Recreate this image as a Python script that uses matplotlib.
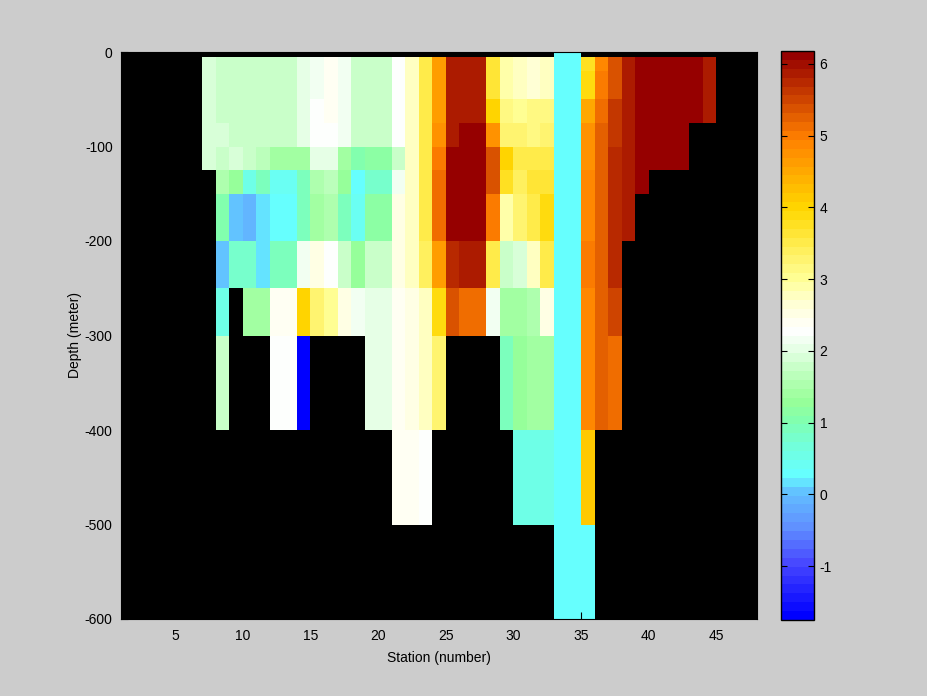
import numpy as np
import matplotlib
matplotlib.use("Agg")
import matplotlib.pyplot as plt
from matplotlib.colors import LinearSegmentedColormap, Normalize

plt.rcParams["font.family"] = ["Liberation Sans", "DejaVu Sans"]
plt.rcParams["axes.unicode_minus"] = False

N = np.nan

# cell edges
station_edges = list(range(7, 46))
depth_edges = [0, -5, -20, -30, -50, -75, -100, -125, -150, -200, -250, -300, -400, -500, -600]

# one profile per station (7..44), top layer first, NaN = no data
profiles = [
    [N, 1.9, 1.9, 1.9, 1.9, 1.9, 1.9, N, N, N, N, N, N, N],                       # 7
    [N, 1.77, 1.77, 1.77, 1.77, 1.9, 1.77, 1.54, 1.0, 0.06, 0.6, 1.77, N, N],      # 8
    [N, 1.77, 1.77, 1.77, 1.77, 1.77, 1.9, 1.3, 0.0, 0.8, N, N, N, N],             # 9
    [N, 1.77, 1.77, 1.77, 1.77, 1.77, 1.77, 0.6, -0.1, 0.8, 1.38, N, N, N],        # 10
    [N, 1.77, 1.77, 1.77, 1.77, 1.77, 1.62, 0.87, 0.12, 0.12, 1.38, N, N, N],      # 11
    [N, 1.83, 1.83, 1.83, 1.77, 1.83, 1.46, 0.45, 0.25, 0.87, 2.43, 2.22, N, N],   # 12
    [N, 1.83, 1.83, 1.83, 1.77, 1.83, 1.46, 0.45, 0.25, 0.87, 2.43, 2.22, N, N],   # 13
    [N, 2.04, 2.04, 2.04, 2.04, 2.04, 1.46, 0.87, 0.87, 2.13, 4.0, -1.75, N, N],   # 14
    [N, 2.13, 2.13, 2.13, 2.22, 2.22, 1.97, 1.54, 1.46, 2.5, 3.25, N, N, N],       # 15
    [N, 2.43, 2.43, 2.43, 2.43, 2.22, 1.97, 1.68, 1.54, 2.3, 2.96, N, N, N],       # 16
    [N, 2.13, 2.13, 2.13, 2.13, 2.13, 1.46, 1.3, 0.87, 1.77, 2.5, N, N, N],        # 17
    [N, 1.83, 1.83, 1.83, 1.77, 1.83, 1.0, 0.25, 0.38, 1.3, 2.13, N, N, N],        # 18
    [N, 1.77, 1.77, 1.77, 1.77, 1.83, 1.2, 0.77, 1.2, 1.77, 1.97, 1.97, N, N],     # 19
    [N, 1.77, 1.77, 1.77, 1.77, 1.83, 1.2, 0.77, 1.2, 1.77, 1.97, 1.97, N, N],     # 20
    [N, 2.22, 2.22, 2.22, 2.22, 2.22, 1.83, 2.13, 2.57, 2.57, 2.35, 2.35, 2.35, N],  # 21
    [N, 2.72, 2.72, 2.72, 2.72, 2.72, 2.72, 2.8, 2.75, 2.8, 2.57, 2.57, 2.35, N],    # 22
    [N, 3.55, 3.55, 3.55, 3.55, 3.55, 3.55, 3.55, 3.55, 3.4, 2.77, 2.8, 2.22, N],    # 23
    [N, 4.57, 4.57, 4.57, 4.57, 4.72, 5.0, 5.17, 5.17, 4.57, 3.85, 3.25, N, N],      # 24
    [N, 5.89, 5.89, 5.89, 5.89, 5.89, 6.07, 6.07, 6.07, 5.8, 5.35, N, N, N],         # 25
    [N, 5.89, 5.89, 5.89, 5.89, 6.07, 6.07, 6.17, 6.17, 5.89, 5.17, N, N, N],        # 26
    [N, 5.89, 5.89, 5.89, 5.89, 6.07, 6.07, 6.17, 6.17, 5.89, 5.17, N, N, N],        # 27
    [N, 3.7, 3.7, 3.7, 4.0, 4.72, 5.35, 5.35, 5.0, 3.55, 2.13, N, N, N],             # 28
    [N, 2.87, 2.87, 2.87, 3.13, 3.25, 4.0, 3.8, 2.87, 1.83, 1.38, 0.87, N, N],       # 29
    [N, 2.79, 2.79, 2.79, 3.06, 3.25, 3.55, 3.45, 3.25, 1.9, 1.38, 1.3, 0.6, N],     # 30
    [N, 2.7, 2.7, 2.7, 3.13, 3.13, 3.55, 3.7, 3.55, 2.74, 1.54, 1.38, 0.6, N],       # 31
    [N, 2.79, 2.79, 2.79, 3.13, 3.25, 3.55, 3.7, 3.85, 3.55, 2.57, 1.46, 0.6, N],    # 32
    [0.25] * 14,                                                                     # 33
    [0.25] * 14,                                                                     # 34
    [N, 3.8, 3.85, 3.85, 4.45, 4.72, 4.72, 4.91, 4.91, 5.0, 4.91, 4.91, 4.17, 0.25], # 35
    [N, 4.86, 5.0, 5.0, 5.17, 5.3, 5.3, 5.3, 5.3, 5.3, 5.3, 5.3, N, N],              # 36
    [N, 5.39, 5.39, 5.39, 5.61, 5.61, 5.76, 5.76, 5.76, 5.71, 5.47, 5.17, N, N],     # 37
    [N, 5.89, 5.89, 5.89, 5.89, 5.89, 5.89, 5.89, 5.89, N, N, N, N, N],              # 38
    [N, 6.17, 6.17, 6.17, 6.17, 6.17, 6.17, 6.17, N, N, N, N, N, N],                 # 39
    [N, 6.17, 6.17, 6.17, 6.17, 6.17, 6.17, N, N, N, N, N, N, N],                    # 40
    [N, 6.17, 6.17, 6.17, 6.17, 6.17, 6.17, N, N, N, N, N, N, N],                    # 41
    [N, 6.17, 6.17, 6.17, 6.17, 6.17, 6.17, N, N, N, N, N, N, N],                    # 42
    [N, 6.07, 6.07, 6.07, 6.07, N, N, N, N, N, N, N, N, N],                          # 43
    [N, 5.89, 5.89, 5.89, 5.89, N, N, N, N, N, N, N, N, N],                          # 44
]

vmin, vmax = -1.75, 6.18
cmap_values = [-1.75, -1.0, -0.5, 0.0, 0.25, 0.6, 1.0, 1.3, 1.7, 2.0, 2.3,
               2.7, 3.0, 3.4, 3.7, 4.0, 5.0, 6.18]
cmap_colors = ["#0000FF", "#4848FF", "#6090FF", "#62C0FF", "#66FFFF", "#70FFE0",
               "#80FFB0", "#98FF98", "#C0FFC0", "#E4FFE4", "#FFFFFF",
               "#FFFFD0", "#FFFF98", "#FFF060", "#FFE430", "#FFD700", "#FF8000",
               "#960000"]


def main():
    pos = [(v - vmin) / (vmax - vmin) for v in cmap_values]
    cmap = LinearSegmentedColormap.from_list("sect", list(zip(pos, cmap_colors)), N=64)
    norm = Normalize(vmin=vmin, vmax=vmax)

    data = np.ma.masked_invalid(np.array(profiles).T)

    fig = plt.figure(figsize=(9.28, 6.96), dpi=100, facecolor="#CCCCCC")
    ax = fig.add_axes([121 / 928, 77 / 696, 636 / 928, 567 / 696])
    ax.set_facecolor("black")
    mesh = ax.pcolormesh(station_edges, depth_edges, data, cmap=cmap, norm=norm)
    ax.set_xlim(1, 48)
    ax.set_ylim(-600, 0)
    ax.set_xticks(range(5, 46, 5))
    ax.set_yticks(range(-600, 1, 100))
    ax.tick_params(direction="in", length=5, labelsize=10, colors="black")
    ax.tick_params(axis="x", pad=7)
    ax.tick_params(axis="y", pad=6)
    ax.set_xlabel("Station (number)", fontsize=10, labelpad=6)
    ax.set_ylabel("Depth (meter)", fontsize=10, labelpad=2)

    cax = fig.add_axes([781 / 928, 76 / 696, 33 / 928, 569 / 696])
    cb = fig.colorbar(mesh, cax=cax, ticks=range(-1, 7))
    cb.outline.set_edgecolor("black")
    cb.outline.set_linewidth(1.0)
    cax.tick_params(direction="in", length=4, left=True, right=True,
                    labelsize=10, colors="black", pad=4)

    fig.savefig("out.png", dpi=100, facecolor=fig.get_facecolor())


if __name__ == "__main__":
    main()
